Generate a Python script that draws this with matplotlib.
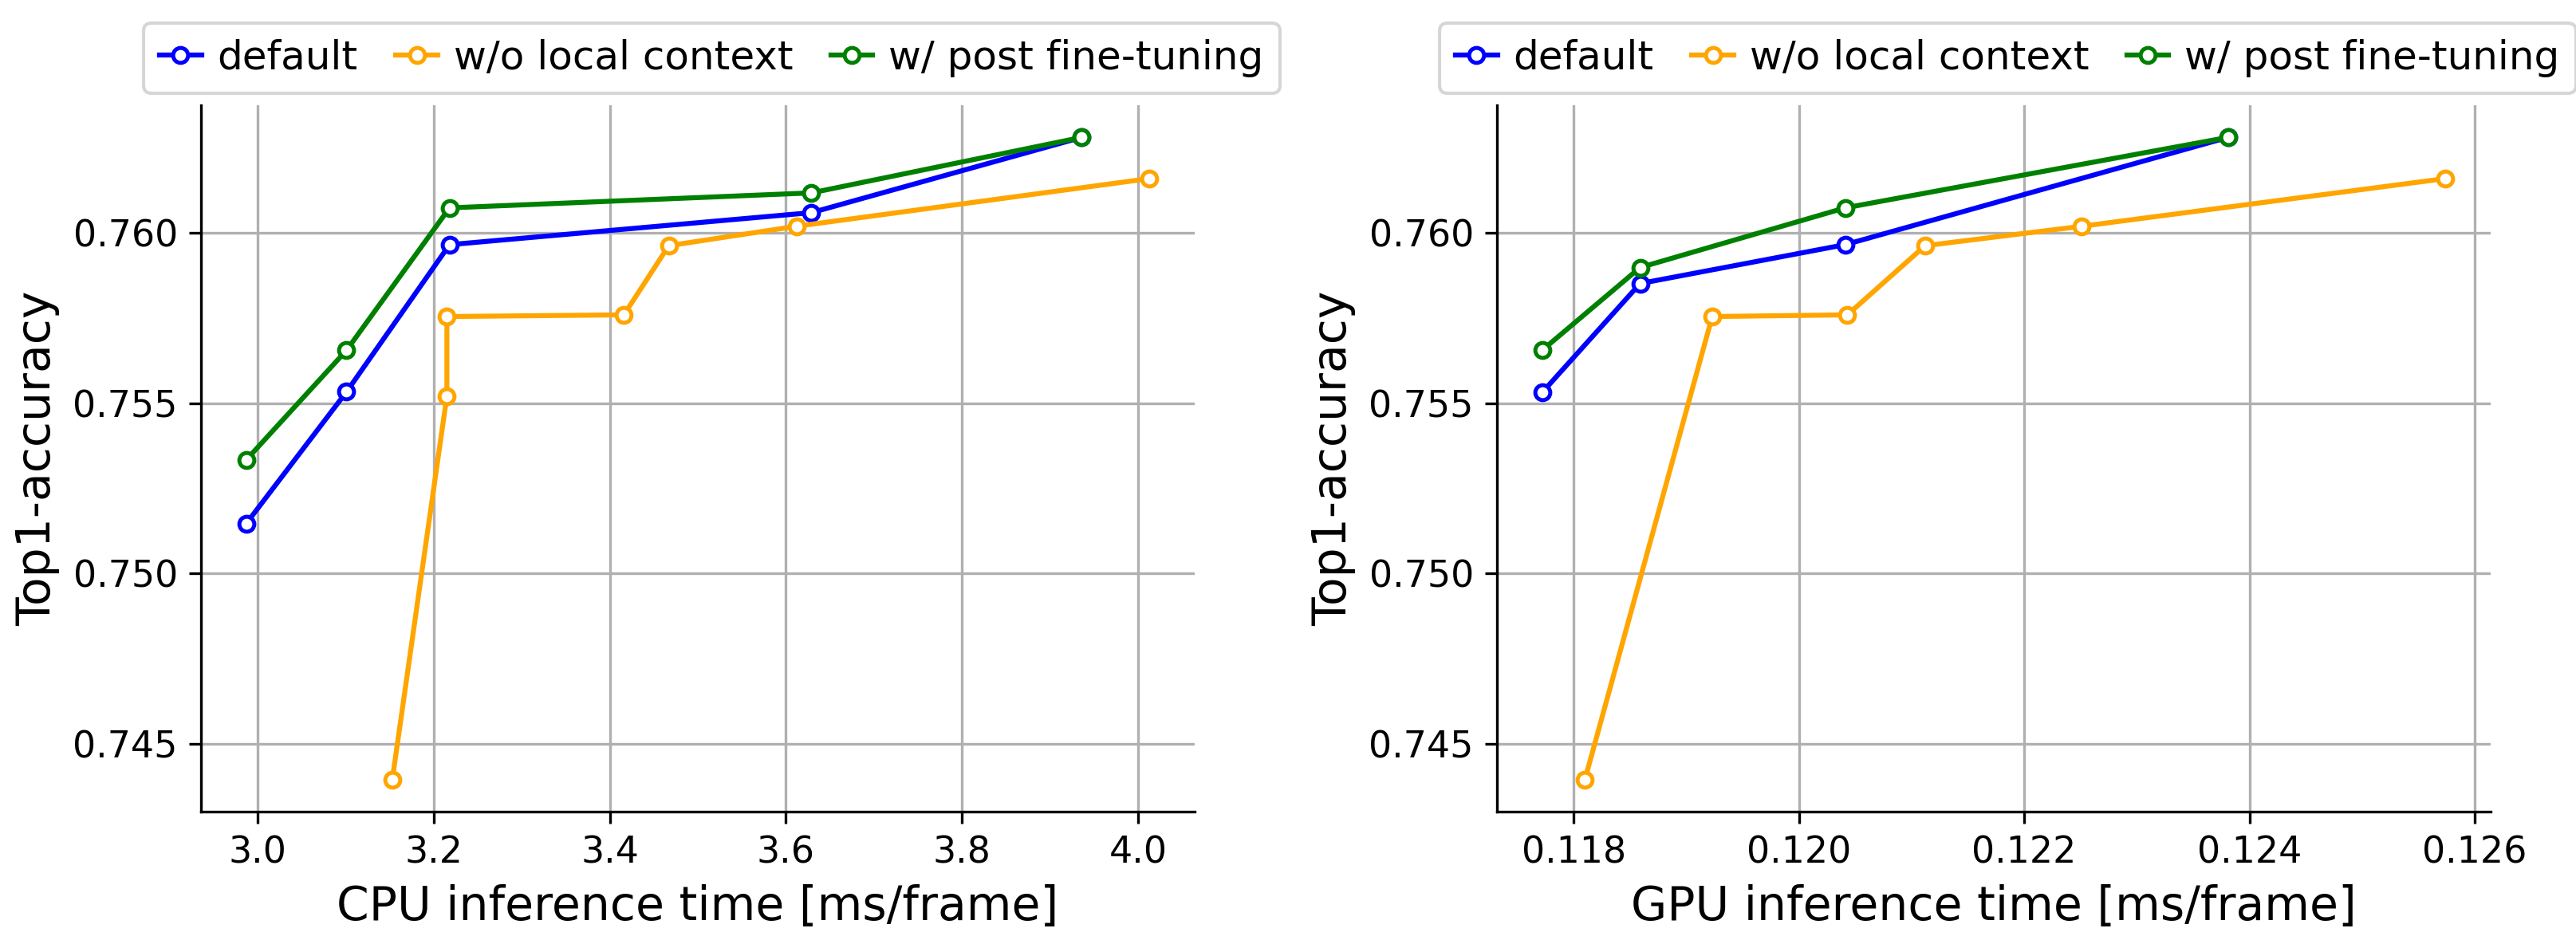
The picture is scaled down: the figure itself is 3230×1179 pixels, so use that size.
import matplotlib
matplotlib.use("Agg")
import matplotlib.pyplot as plt

plt.rcParams['font.family'] = ['DejaVu Sans']

# CPU panel
cpu_default_x = [2.987, 3.101, 3.218, 3.629, 3.936]
cpu_default_y = [0.75146, 0.75533, 0.75965, 0.76059, 0.76280]
cpu_noloc_x = [3.153, 3.215, 3.215, 3.416, 3.467, 3.612, 4.013]
cpu_noloc_y = [0.74395, 0.75521, 0.75754, 0.75759, 0.75962, 0.76019, 0.76159]
cpu_ft_x = [2.987, 3.101, 3.218, 3.629, 3.936]
cpu_ft_y = [0.75333, 0.75655, 0.76073, 0.76117, 0.76280]

# GPU panel
gpu_default_x = [0.11772, 0.11859, 0.12041, 0.12381]
gpu_default_y = [0.75531, 0.75851, 0.75965, 0.76280]
gpu_noloc_x = [0.11810, 0.11923, 0.12043, 0.12112, 0.12251, 0.12574]
gpu_noloc_y = [0.74395, 0.75754, 0.75759, 0.75962, 0.76019, 0.76159]
gpu_ft_x = [0.11772, 0.11859, 0.12041, 0.12381]
gpu_ft_y = [0.75655, 0.75898, 0.76073, 0.76280]

labels = ["default", "w/o local context", "w/ post fine-tuning"]
colors = ["blue", "orange", "green"]
xlabels = ["CPU inference time [ms/frame]", "GPU inference time [ms/frame]"]

fig = plt.figure(figsize=(3230/300, 1179/300), dpi=300)
ax1 = fig.add_axes([252/3230, 1 - 1018/1179, 1246/3230, 886/1179])
ax2 = fig.add_axes([1877/3230, 1 - 1018/1179, 1246/3230, 886/1179])

panels = [
    (ax1, [(cpu_default_x, cpu_default_y), (cpu_noloc_x, cpu_noloc_y), (cpu_ft_x, cpu_ft_y)], xlabels[0]),
    (ax2, [(gpu_default_x, gpu_default_y), (gpu_noloc_x, gpu_noloc_y), (gpu_ft_x, gpu_ft_y)], xlabels[1]),
]

for ax, series, xl in panels:
    for (xs, ys), lab, c in zip(series, labels, colors):
        ax.plot(xs, ys, color=c, lw=1.5, marker='o', markersize=4.5,
                markerfacecolor='white', markeredgecolor=c, markeredgewidth=1.2,
                label=lab)
    ax.grid(True, color='#b0b0b0', lw=0.8)
    ax.set_axisbelow(True)
    ax.spines['top'].set_visible(False)
    ax.spines['right'].set_visible(False)
    ax.set_yticks([0.745, 0.750, 0.755, 0.760])
    ax.yaxis.set_major_formatter(matplotlib.ticker.FormatStrFormatter('%.3f'))
    ax.tick_params(labelsize=11)
    ax.set_xlabel(xl, fontsize=14)
    ax.set_ylabel("Top1-accuracy", fontsize=14)
    ax.legend(loc='lower center', bbox_to_anchor=(0.514, 1.0), ncol=3,
              fontsize=12, handlelength=1.05, columnspacing=0.95,
              handletextpad=0.4, borderaxespad=0.3)

ax1.set_xticks([3.0, 3.2, 3.4, 3.6, 3.8, 4.0])
ax1.xaxis.set_major_formatter(matplotlib.ticker.FormatStrFormatter('%.1f'))
ax2.set_xticks([0.118, 0.120, 0.122, 0.124, 0.126])
ax2.xaxis.set_major_formatter(matplotlib.ticker.FormatStrFormatter('%.3f'))

fig.savefig("out.png", dpi=300)
